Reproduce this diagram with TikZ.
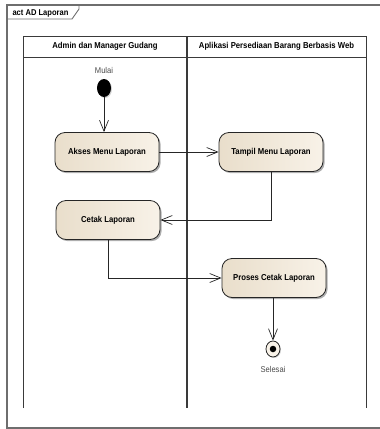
\documentclass[tikz,border=0pt]{standalone}
\usepackage{fontspec}
\setmainfont{Liberation Sans}
\newfontfamily\umlfont[FakeStretch=0.9]{Liberation Sans}
\usetikzlibrary{arrows.meta,shapes.geometric,shadows}
\definecolor{framegray}{HTML}{6E6E6E}
\definecolor{lanegray}{HTML}{3A3A3A}
\definecolor{actleft}{HTML}{E9DECB}
\definecolor{actright}{HTML}{F8F2E8}
\definecolor{labelgray}{HTML}{4A4A4A}
\tikzset{
  actbox/.style={draw=black!85, line width=0.8pt, rounded corners=10pt,
    left color=actleft, right color=actright,
    minimum width=104pt, minimum height=39pt, inner sep=0pt,
    font=\umlfont\fontsize{8.6}{10}\selectfont\bfseries,
    drop shadow={shadow xshift=1.6pt, shadow yshift=-1.6pt, fill=black!45, opacity=0.7}},
  lanehead/.style={font=\umlfont\fontsize{8.6}{10}\selectfont\bfseries},
  flow/.style={draw=black!85, line width=0.7pt,
    -{Straight Barb[length=11pt,width=9pt,line width=0.7pt]}},
  smalllabel/.style={font=\umlfont\fontsize{8.4}{10}\selectfont, text=labelgray}
}
\begin{document}
\begin{tikzpicture}[x=1pt,y=-1pt]
  \useasboundingbox (0,0) rectangle (380,429);
  % diagram frame and its name tab
  \draw[framegray, line width=1.2pt] (380,5) -- (7,5) -- (7,428) -- (380,428);
  \draw[framegray, line width=0.9pt] (7,19) -- (72,19) -- (79,9) -- (79,5);
  \node[anchor=west, font=\umlfont\fontsize{8.4}{10}\selectfont\bfseries] (frametitle) at (9,13) {act AD Laporan};

  % swimlanes
  \draw[lanegray, line width=0.9pt] (23,408) -- (23,36) -- (366,36) -- (366,408);
  \draw[lanegray, line width=0.9pt] (23,57) -- (366,57);
  \draw[lanegray, line width=1.1pt] (187,36) -- (187,408);
  \node[lanehead] (laneA) at (105,46.5) {Admin dan Manager Gudang};
  \node[lanehead] (laneB) at (276.5,46.5) {Aplikasi Persediaan Barang Berbasis Web};

  % initial node
  \node[smalllabel] (mulai) at (104,70) {Mulai};
  \node[ellipse, fill=black, minimum width=14pt, minimum height=18pt, inner sep=0pt,
        drop shadow={shadow xshift=1pt, shadow yshift=-1pt, fill=black!35}] (start) at (104,88) {};

  % activities
  \node[actbox] (akses)  at (107,152) {Akses Menu Laporan};
  \node[actbox] (tampil) at (271,152) {Tampil Menu Laporan};
  \node[actbox] (cetak)  at (108,220) {Cetak Laporan};
  \node[actbox] (proses) at (274,278) {Proses Cetak Laporan};

  % final node
  \node[ellipse, draw=black!85, line width=0.8pt, fill=actright, minimum width=14pt, minimum height=16pt, inner sep=0pt,
        drop shadow={shadow xshift=1pt, shadow yshift=-1pt, fill=black!35}] (stop) at (273,349) {};
  \node[circle, fill=black, minimum size=6.5pt, inner sep=0pt] (stopdot) at (stop.center) {};
  \node[smalllabel] (selesai) at (273,369) {Selesai};

  % control flows
  \draw[flow] (start.south) -- (start.south |- akses.north);
  \draw[flow] (akses.east) -- (tampil.west);
  \draw[flow] (tampil.south) |- (cetak.east);
  \draw[flow] (cetak.south) |- (proses.west);
  \draw[flow] (proses.south -| stop.north) -- (stop.north);
\end{tikzpicture}
\end{document}
